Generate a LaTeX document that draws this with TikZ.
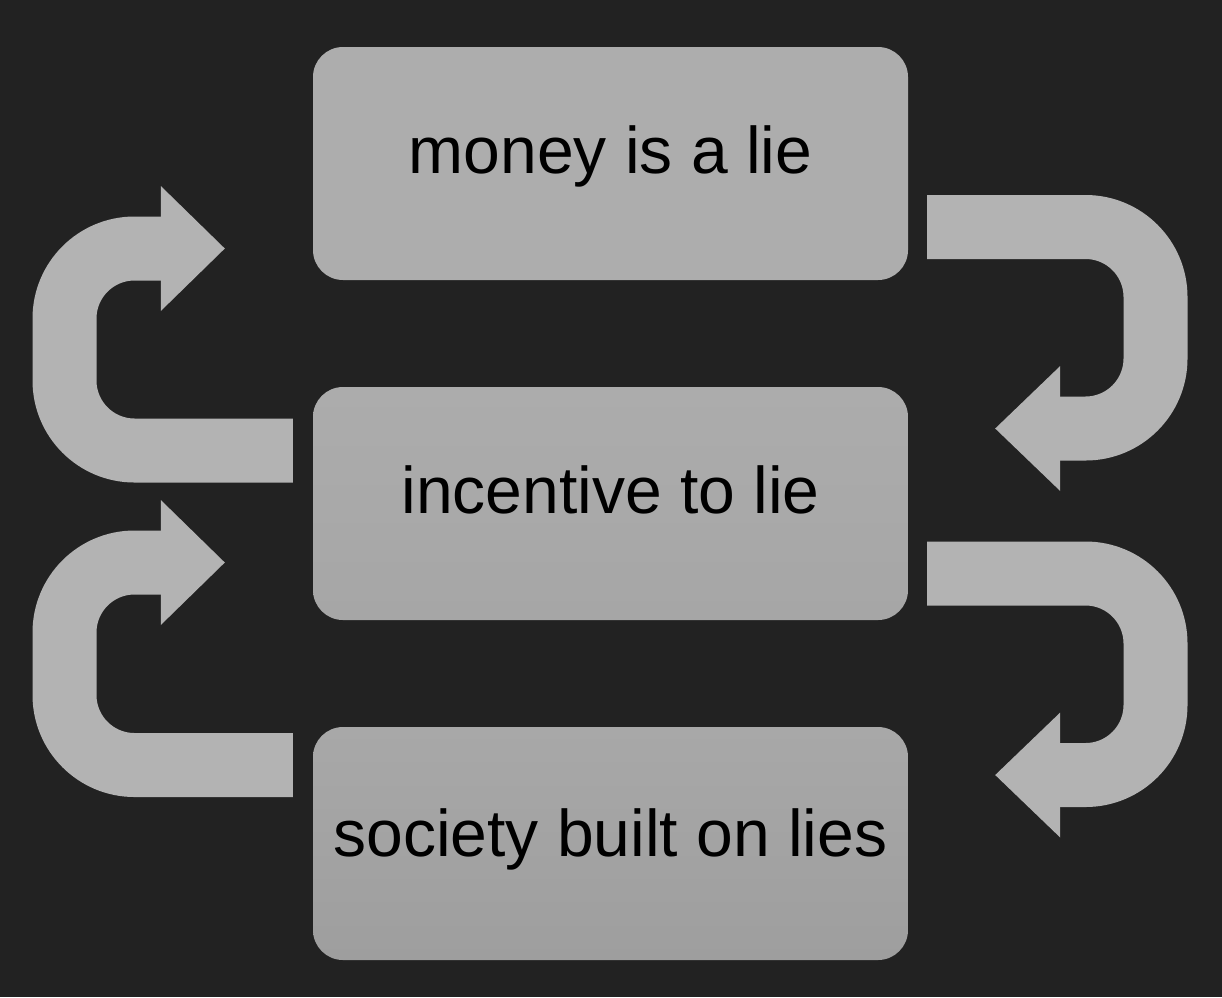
\documentclass[tikz,border=0pt]{standalone}
\usepackage{fontspec}
\setmainfont{Liberation Sans}
\usetikzlibrary{calc}
\definecolor{bgcol}{HTML}{222222}
\definecolor{boxa}{HTML}{ADADAD}
\definecolor{boxbtop}{HTML}{ACACAC}
\definecolor{boxbbot}{HTML}{A6A6A6}
\definecolor{boxctop}{HTML}{A8A8A8}
\definecolor{boxcbot}{HTML}{9E9E9E}
\definecolor{arrowcol}{HTML}{B3B3B3}
\begin{document}
\begin{tikzpicture}[x=1pt,y=-1pt,
  stepbox/.style={rounded corners=30pt, draw=none,
    minimum width=595pt, minimum height=233pt, inner sep=0pt,
    font=\fontsize{66}{79}\selectfont, text=black, text height=40pt, text depth=21pt},
  band/.style={draw=arrowcol, line width=64pt, rounded corners=70pt, line cap=butt},
  headfill/.style={fill=arrowcol, draw=none}]
\fill[bgcol] (0,0) rectangle (1222,997);
\useasboundingbox (0,0) rectangle (1222,997);

\node[stepbox, fill=boxa] (b1) at (610.5,163.5) {money is a lie};
\node[stepbox, top color=boxbtop, bottom color=boxbbot] (b2) at (610.5,503.5) {incentive to lie};
\node[stepbox, top color=boxctop, bottom color=boxcbot, text depth=14pt] (b3) at (610.5,843.5) {society built on lies};

% right arrow 1: b1 -> b2
\coordinate (r1s) at ($(b1.east)+(19,63.5)$);
\coordinate (r1a) at (1155.5,227);
\coordinate (r1b) at (1155.5,428.5);
\coordinate (r1e) at ($(b2.east)+(150,-75)$);
\draw[band] (r1s) -- (r1a) -- (r1b) -- (r1e);
\fill[headfill] ($(r1e)+(2,-62.5)$) -- ($(r1e)+(-63,0)$) -- ($(r1e)+(2,62.5)$) -- cycle;

% right arrow 2: b2 -> b3
\coordinate (r2s) at ($(b2.east)+(19,70)$);
\coordinate (r2a) at (1155.5,573.5);
\coordinate (r2b) at (1155.5,775);
\coordinate (r2e) at ($(b3.east)+(150,-68.5)$);
\draw[band] (r2s) -- (r2a) -- (r2b) -- (r2e);
\fill[headfill] ($(r2e)+(2,-62.5)$) -- ($(r2e)+(-63,0)$) -- ($(r2e)+(2,62.5)$) -- cycle;

% left arrow 1: b2 -> b1
\coordinate (l1s) at ($(b2.west)+(-20,-53)$);
\coordinate (l1a) at (64.5,450.5);
\coordinate (l1b) at (64.5,248.5);
\coordinate (l1e) at ($(b1.west)+(-150,85)$);
\draw[band] (l1s) -- (l1a) -- (l1b) -- (l1e);
\fill[headfill] ($(l1e)+(-2,-62.5)$) -- ($(l1e)+(62,0)$) -- ($(l1e)+(-2,62.5)$) -- cycle;

% left arrow 2: b3 -> b2
\coordinate (l2s) at ($(b3.west)+(-20,-78.5)$);
\coordinate (l2a) at (64.5,765);
\coordinate (l2b) at (64.5,562.5);
\coordinate (l2e) at ($(b2.west)+(-150,59)$);
\draw[band] (l2s) -- (l2a) -- (l2b) -- (l2e);
\fill[headfill] ($(l2e)+(-2,-62.5)$) -- ($(l2e)+(62,0)$) -- ($(l2e)+(-2,62.5)$) -- cycle;
\end{tikzpicture}
\end{document}
